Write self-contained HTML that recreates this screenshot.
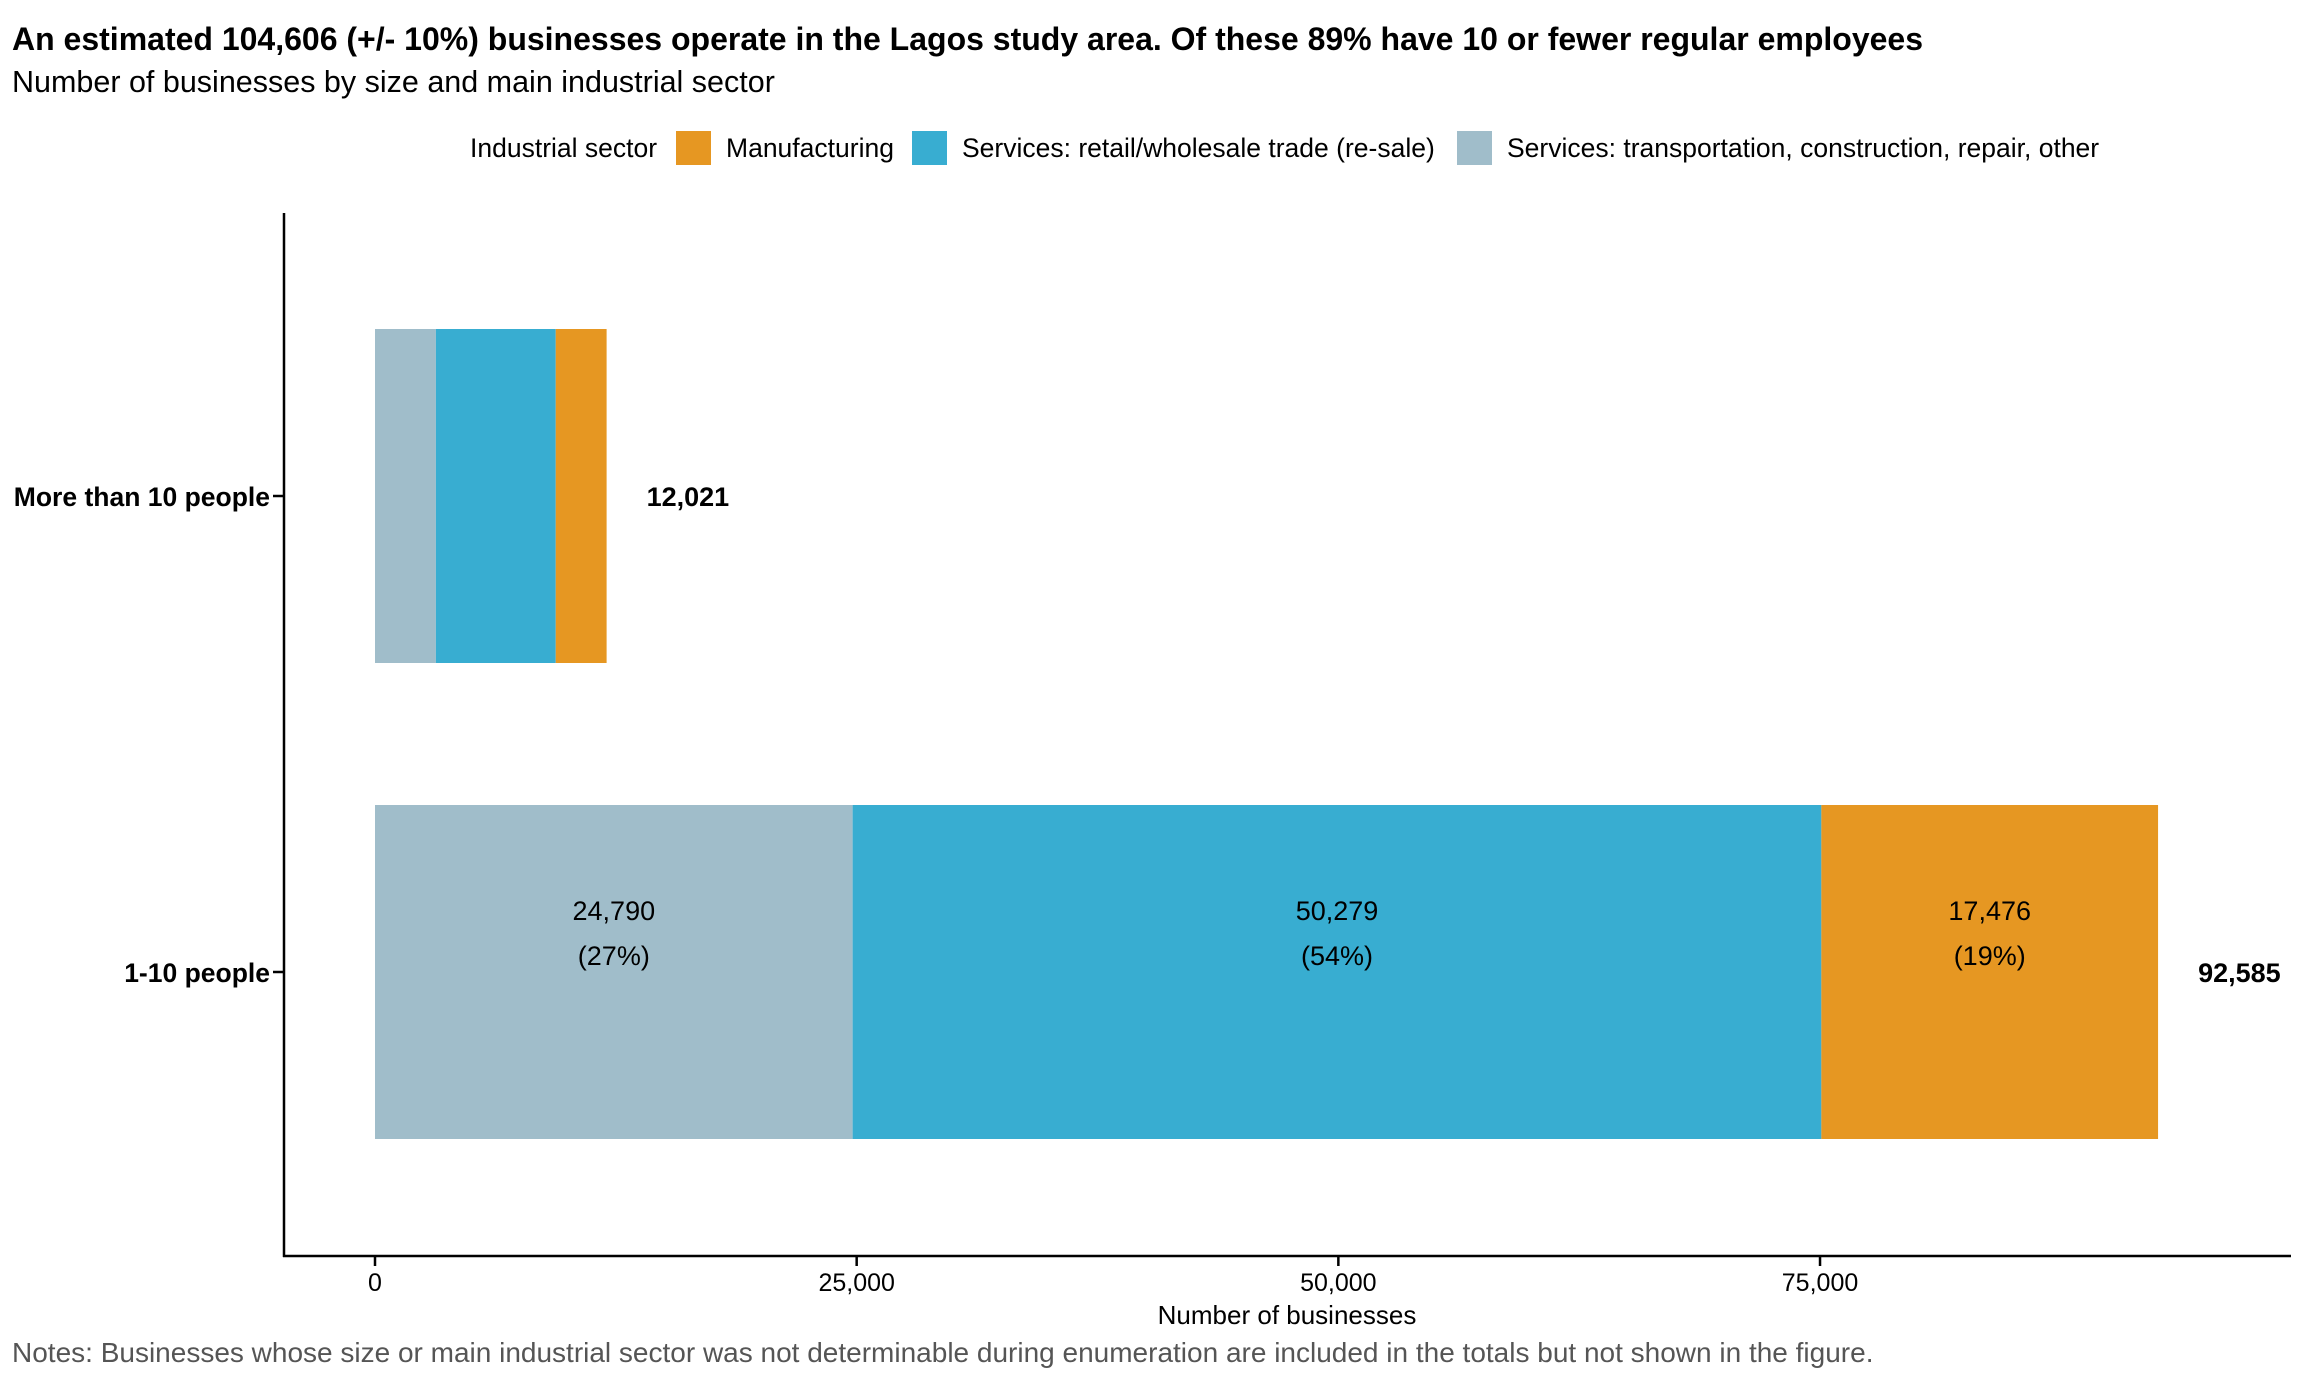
<!DOCTYPE html>
<html><head><meta charset="utf-8"><style>
body{margin:0;background:#fff;font-family:"Liberation Sans",Arial,sans-serif;}
svg text{font-family:"Liberation Sans",Arial,sans-serif;}
</style></head><body>
<svg id="chart" width="2304" height="1382" viewBox="0 0 2304 1382">
<text x="12" y="50" font-size="32" font-weight="bold">An estimated 104,606 (+/- 10%) businesses operate in the Lagos study area. Of these 89% have 10 or fewer regular employees</text>
<text x="12" y="92" font-size="30.5">Number of businesses by size and main industrial sector</text>
<g>
<text x="470" y="157" font-size="26.5">Industrial sector</text>
<rect x="676" y="131" width="35" height="34" fill="#E69722"/>
<text x="726" y="157" font-size="26.5">Manufacturing</text>
<rect x="912" y="131" width="35" height="34" fill="#38ADD1"/>
<text x="962" y="157" font-size="26.5">Services: retail/wholesale trade (re-sale)</text>
<rect x="1457" y="131" width="35" height="34" fill="#A0BDCA"/>
<text x="1507" y="157" font-size="26.5">Services: transportation, construction, repair, other</text>
</g>
<line x1="284" y1="213" x2="284" y2="1257" stroke="#000" stroke-width="2.5"/>
<line x1="283" y1="1256" x2="2291" y2="1256" stroke="#000" stroke-width="2.5"/>
<g id="bars"></g>
<g id="axes"></g>
<text x="1287" y="1324" font-size="26" text-anchor="middle">Number of businesses</text>
<text x="12" y="1362" font-size="28" fill="#555">Notes: Businesses whose size or main industrial sector was not determinable during enumeration are included in the totals but not shown in the figure.</text>
</svg>
<script>
const categories = ["More than 10 people", "1-10 people"];
const otherServices = [3160, 24790];
const retail = [6220, 50279];
const manufacturing = [2641, 17476];
const totals = [12021, 92585];
const showSegLabels = [false, true];
const xTicks = [0, 25000, 50000, 75000];
const xTickLabels = ["0", "25,000", "50,000", "75,000"];

const NS = "http://www.w3.org/2000/svg";
const xScale = v => 375 + v * 0.019267;
const yCenter = i => [496, 972][i];
const barH = 334;
function mk(tag, attrs, parent){const e=document.createElementNS(NS,tag);for(const k in attrs)e.setAttribute(k,attrs[k]);parent.appendChild(e);return e;}
const bars = document.getElementById('bars');
const axes = document.getElementById('axes');
const series = [
 {vals: otherServices, color: "#A0BDCA", name: "other-services"},
 {vals: retail, color: "#38ADD1", name: "retail"},
 {vals: manufacturing, color: "#E69722", name: "manufacturing"}
];
categories.forEach((c, i) => {
  let acc = 0;
  const sum = series.reduce((s, se) => s + se.vals[i], 0);
  series.forEach(se => {
    const v = se.vals[i];
    const x0 = xScale(acc), x1 = xScale(acc + v);
    const r = mk('rect', {x: x0, y: yCenter(i) - barH/2, width: x1 - x0, height: barH, fill: se.color}, bars);
    
    
    if (showSegLabels[i]) {
      const cx = (x0 + x1) / 2;
      const t1 = mk('text', {x: cx, y: yCenter(i) - 52, 'font-size': 27, 'text-anchor': 'middle'}, bars);
      t1.textContent = v.toLocaleString('en-US');
      
      
      const t2 = mk('text', {x: cx, y: yCenter(i) - 7, 'font-size': 27, 'text-anchor': 'middle'}, bars);
      t2.textContent = '(' + Math.round(v / sum * 100) + '%)';
      
      
    }
    acc += v;
  });
  const tt = mk('text', {x: xScale(acc) + 40, y: yCenter(i) + 10, 'font-size': 27, 'font-weight': 'bold'}, bars);
  tt.textContent = totals[i].toLocaleString('en-US');
  
  
  const tk = mk('line', {x1: 273, x2: 284, y1: yCenter(i), y2: yCenter(i), stroke: '#000', 'stroke-width': 2.5}, axes);
  
  
  const yl = mk('text', {x: 270, y: yCenter(i) + 10, 'font-size': 26.5, 'font-weight': 'bold', 'text-anchor': 'end'}, axes);
  yl.textContent = c;
  
  
});
xTicks.forEach((v, j) => {
  const x = xScale(v);
  const tk = mk('line', {x1: x, x2: x, y1: 1256, y2: 1266, stroke: '#000', 'stroke-width': 2.5}, axes);
  
  
  const tl = mk('text', {x: x, y: 1291, 'font-size': 25, 'text-anchor': 'middle'}, axes);
  tl.textContent = xTickLabels[j];
  
  
});
</script>
</body></html>
